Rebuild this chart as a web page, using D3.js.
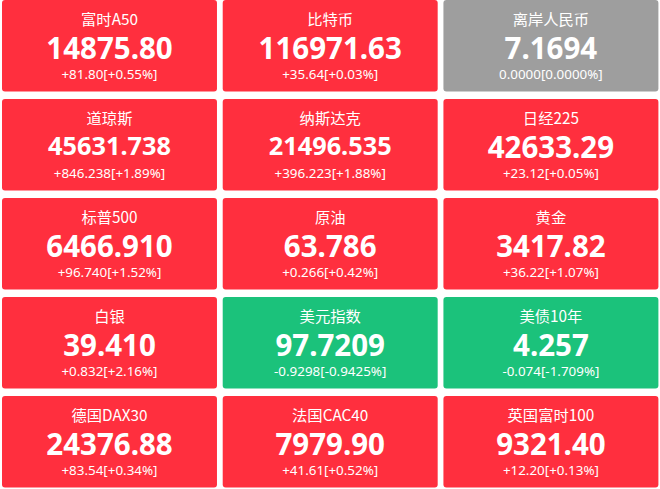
<!DOCTYPE html>
<meta charset="utf-8">
<script src="https://d3js.org/d3.v7.min.js"></script>
<style>
html, body { margin: 0; padding: 0; background: #fff; overflow: hidden; }
text { text-anchor: middle; fill: #fff; }
.name { font: 400 15.3px "Noto Sans CJK SC", "Noto Sans", sans-serif; }
.price { font: 700 29.5px "Noto Sans", "Open Sans", sans-serif; }
.price.long { font-size: 25.3px; }
.change { font: 400 13.4px "Noto Sans", "Open Sans", sans-serif; }
</style>
<div id="my_dataviz"></div>
<script>
// values, row by row
var names = ["富时A50", "比特币", "离岸人民币", "道琼斯", "纳斯达克", "日经225", "标普500", "原油", "黄金", "白银", "美元指数", "美债10年", "德国DAX30", "法国CAC40", "英国富时100"];
var prices = ["14875.80", "116971.63", "7.1694", "45631.738", "21496.535", "42633.29", "6466.910", "63.786", "3417.82", "39.410", "97.7209", "4.257", "24376.88", "7979.90", "9321.40"];
var changes = ["+81.80", "+35.64", "0.0000", "+846.238", "+396.223", "+23.12", "+96.740", "+0.266", "+36.22", "+0.832", "-0.9298", "-0.074", "+83.54", "+41.61", "+12.20"];
var percents = ["+0.55%", "+0.03%", "0.0000%", "+1.89%", "+1.88%", "+0.05%", "+1.52%", "+0.42%", "+1.07%", "+2.16%", "-0.9425%", "-1.709%", "+0.34%", "+0.52%", "+0.13%"];

var width = 660, height = 489;
var cols = d3.range(3), rows = d3.range(5);

var x = d3.scaleBand().domain(cols).range([2, 658.4]).paddingInner(0.026);
var y = d3.scaleBand().domain(rows).range([0, 487.5]).paddingInner(0.076);

var color = function(i) {
    if (changes[i].charAt(0) === "-") return "#1bc27b";
    if (changes[i].charAt(0) === "+") return "#ff2f3e";
    return "#9e9e9e";
};

// prices with 5 integer digits and 3 decimals get squeezed in the source page
var isLong = function(p) { return p.length > 8 && p.split(".")[1].length === 3; };

var svg = d3.select("#my_dataviz")
    .append("svg")
    .attr("width", width)
    .attr("height", height)
    .style("display", "block");

var card = svg.selectAll("g")
    .data(names)
    .enter().append("g")
    .attr("transform", function(d, i) {
        return "translate(" + x(i % 3) + "," + y(Math.floor(i / 3)) + ")";
    });

card.append("rect")
    .attr("width", x.bandwidth())
    .attr("height", y.bandwidth())
    .attr("rx", 3)
    .attr("fill", function(d, i) { return color(i); });

card.append("text")
    .attr("class", "name")
    .attr("x", x.bandwidth() / 2)
    .attr("y", 25)
    .text(function(d) { return d; });

card.append("text")
    .attr("class", function(d, i) { return isLong(prices[i]) ? "price long" : "price"; })
    .attr("x", x.bandwidth() / 2)
    .attr("y", function(d, i) { return isLong(prices[i]) ? 56 : 58.5; })
    .text(function(d, i) { return prices[i]; });

card.append("text")
    .attr("class", "change")
    .attr("x", x.bandwidth() / 2)
    .attr("y", 78.5)
    .text(function(d, i) { return changes[i] + "[" + percents[i] + "]"; });
</script>
